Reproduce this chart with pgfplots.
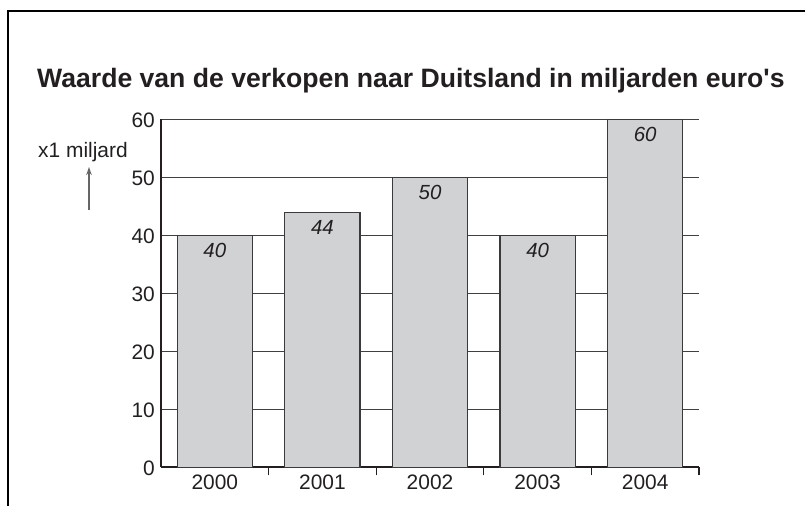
\documentclass[border=0pt]{standalone}
\usepackage{fontspec}
\setmainfont{Liberation Sans}
\usepackage{pgfplots}
\pgfplotsset{compat=1.18}
\usetikzlibrary{arrows.meta}
\definecolor{txt}{HTML}{231F20}
\definecolor{barfill}{HTML}{D1D2D4}
\definecolor{bardraw}{HTML}{3A3A3C}
\definecolor{gridc}{HTML}{404042}
\begin{document}
\begin{tikzpicture}[x=1bp,y=1bp]
\useasboundingbox (0,0) rectangle (805,506);
\draw[line width=2bp, black] (7.5,0) -- (7.5,495) -- (805,495);
\node[anchor=base west, inner sep=0pt, text=txt, font=\fontsize{26.7}{30}\selectfont\bfseries] at (37,418) {Waarde van de verkopen naar Duitsland in miljarden euro\textquotesingle s};
\node[anchor=base west, inner sep=0pt, text=txt, font=\fontsize{21}{24}\selectfont] at (38,348) {x1 miljard};
\draw[line width=1.2bp, gray!80!black, -{Stealth[length=8bp,width=5.5bp]}] (89,296) -- (89,339);
\begin{axis}[
  at={(161bp,38.5bp)}, anchor=south west,
  scale only axis, width=538bp, height=348bp,
  xmin=-0.5, xmax=4.5, ymin=0, ymax=60,
  axis x line*=bottom, axis y line*=left,
  x axis line style={line width=2bp, color=txt},
  y axis line style={line width=1.3bp, color=txt},
  xtick={0,1,2,3,4}, xticklabels={2000,2001,2002,2003,2004},
  minor xtick={0.5,1.5,2.5,3.5,4.5},
  ytick={0,10,20,30,40,50,60},
  major tick length=0pt, minor tick length=8bp, tick align=center,
  minor tick style={line width=1.3bp, color=txt},
  ymajorgrids, grid style={line width=1bp, color=gridc},
  /pgf/number format/assume math mode=true,
  tick label style={text=txt, font=\fontsize{21}{24}\selectfont},
  xticklabel style={anchor=base, inner sep=0pt, yshift=-22bp},
  yticklabel style={anchor=east, inner sep=0pt, xshift=-6bp, yshift=-1bp},
  ybar, bar width=0.7,
  nodes near coords,
  every node near coord/.append style={anchor=base, inner sep=0pt, yshift=-22bp, text=txt, font=\fontsize{20.5}{24}\selectfont\itshape},
  clip=false,
]
\addplot[fill=barfill, draw=bardraw, line width=1.2bp] coordinates {(0,40) (1,44) (2,50) (3,40) (4,60)};
\end{axis}
\end{tikzpicture}
\end{document}
